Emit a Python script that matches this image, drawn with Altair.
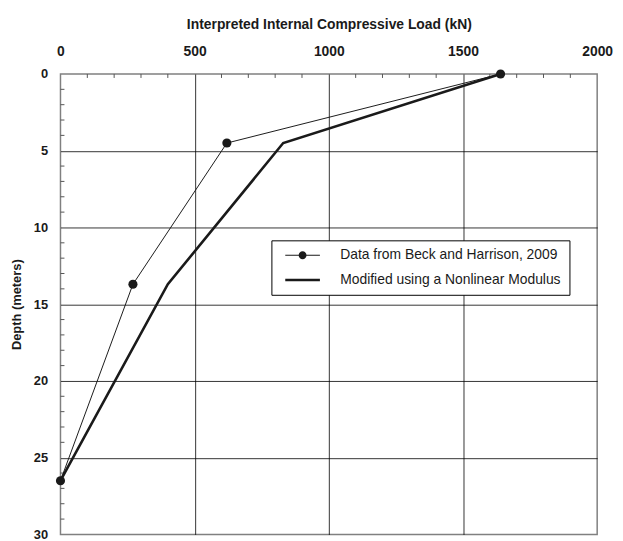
import altair as alt
import pandas as pd

# Data
depth = [0, 4.5, 13.7, 26.5]
beck_load = [1640, 620, 270, 0]
modified_load = [1640, 830, 400, 0]
series_names = ["Data from Beck and Harrison, 2009", "Modified using a Nonlinear Modulus"]

x_ticks = [0, 500, 1000, 1500, 2000]
y_ticks = [0, 5, 10, 15, 20, 25, 30]
x_minor = [100, 200, 300, 400, 600, 700, 800, 900, 1100, 1200, 1300, 1400,
           1600, 1700, 1800, 1900]
y_minor = [1, 2, 3, 4, 6, 7, 8, 9, 11, 12, 13, 14, 16, 17, 18, 19,
           21, 22, 23, 24, 26, 27, 28, 29]

FONT = "Liberation Sans"
INK = "#1a1a1a"

beck_df = pd.DataFrame({"load": beck_load, "depth": depth, "series": series_names[0]})
mod_df = pd.DataFrame({"load": modified_load, "depth": depth, "series": series_names[1]})
xminor_df = pd.DataFrame({"load": x_minor})
yminor_df = pd.DataFrame({"depth": y_minor})
legend_df = pd.DataFrame({"series": series_names})

x_grid_color = {"condition": {"test": "datum.value === 0 || datum.value === 2000",
                              "value": "transparent"}, "value": "#000000"}
y_grid_color = {"condition": {"test": "datum.value === 0 || datum.value === 30",
                              "value": "transparent"}, "value": "#000000"}

x_enc = alt.X(
    "load:Q",
    scale=alt.Scale(domain=[0, 2000], nice=False, zero=False),
    axis=alt.Axis(
        orient="top", values=x_ticks, format="d",
        title="Interpreted Internal Compressive Load (kN)",
        titleFont=FONT, titleFontSize=14, titleFontWeight="bold", titleColor=INK,
        titlePadding=13,
        labelFont=FONT, labelFontSize=14, labelFontWeight="bold", labelColor=INK,
        labelPadding=16, labelAngle=0, labelFlush=False,
        ticks=False, domain=False,
        grid=True, gridColor=x_grid_color, gridWidth=0.8,
    ),
)
y_enc = alt.Y(
    "depth:Q",
    scale=alt.Scale(domain=[0, 30], reverse=True, nice=False, zero=False),
    axis=alt.Axis(
        orient="left", values=y_ticks, format="d",
        title="Depth (meters)",
        titleFont=FONT, titleFontSize=13, titleFontWeight="bold", titleColor=INK,
        titlePadding=10,
        labelFont=FONT, labelFontSize=13, labelFontWeight="bold", labelColor=INK,
        labelPadding=13, labelFlush=False,
        ticks=False, domain=False,
        grid=True, gridColor=y_grid_color, gridWidth=0.8,
    ),
)

beck_line = alt.Chart(beck_df).mark_line(color=INK, strokeWidth=1).encode(
    x=x_enc, y=y_enc, order="depth:Q")
mod_line = alt.Chart(mod_df).mark_line(color=INK, strokeWidth=2.6).encode(
    x="load:Q", y="depth:Q", order="depth:Q")
beck_pts = alt.Chart(beck_df).mark_circle(color=INK, size=85, opacity=1).encode(
    x="load:Q", y="depth:Q")

xminor = alt.Chart(xminor_df).mark_rule(color="#555555", strokeWidth=1).encode(
    x="load:Q", y=alt.value(0), y2=alt.value(4))
yminor = alt.Chart(yminor_df).mark_rule(color="#555555", strokeWidth=1).encode(
    y="depth:Q", x=alt.value(0), x2=alt.value(4))

path_beck = ("M-2.5,-0.07L-0.5,-0.07L-0.5,0.07L-2.5,0.07Z"
             "M0.5,-0.07L2.5,-0.07L2.5,0.07L0.5,0.07Z"
             "M0.57,0A0.57,0.57,0,1,1,-0.57,0A0.57,0.57,0,1,1,0.57,0Z")
path_mod = "M-2.5,-0.18L2.5,-0.18L2.5,0.18L-2.5,0.18Z"

legend_layer = alt.Chart(legend_df).transform_filter("false").mark_point(
    filled=True, color=INK, opacity=1, strokeWidth=0
).encode(
    x=alt.value(0), y=alt.value(0),
    shape=alt.Shape(
        "series:N",
        scale=alt.Scale(domain=series_names, range=[path_beck, path_mod]),
        legend=alt.Legend(
            title=None, orient="none", legendX=213, legendY=168,
            padding=8, strokeColor="#000000", fillColor="white",
            symbolSize=196, symbolStrokeWidth=0, symbolOffset=16.5,
            symbolFillColor=INK, symbolStrokeColor=INK,
            labelFont=FONT, labelFontSize=14, labelColor=INK,
            labelLimit=400, labelOffset=31, rowPadding=11,
        ),
    ),
)

chart = alt.layer(xminor, yminor, beck_line, mod_line, beck_pts, legend_layer).properties(
    width=542, height=465,
    autosize=alt.AutoSizeParams(type="none"),
    padding={"left": 53, "top": 64, "right": 18, "bottom": 4},
).configure_view(stroke="#808080", strokeWidth=1.5)

chart.save("out.html", embed_options={"renderer": "svg", "actions": False})
